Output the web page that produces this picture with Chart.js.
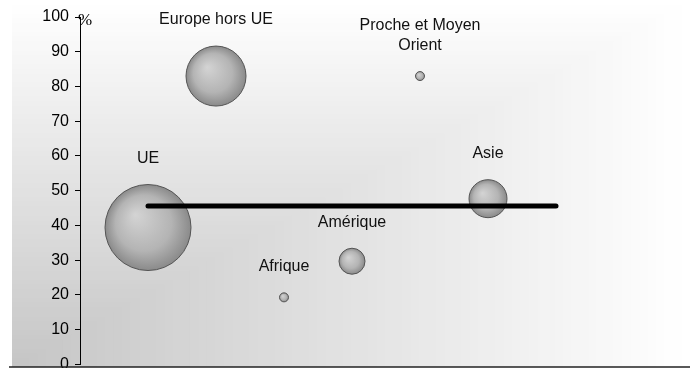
<!DOCTYPE html>
<html>
<head>
<meta charset="utf-8">
<script src="https://cdn.jsdelivr.net/npm/chart.js@4"></script>
<style>
  body { margin: 0; background: #fff; }
  #wrap { width: 700px; height: 368px; overflow: hidden; }
  #box { width: 700px; height: 380px; }
</style>
</head>
<body>
<div id="wrap"><div id="box"><canvas id="chart"></canvas></div></div>
<script>
const regions = [["UE"], ["Europe hors UE"], ["Afrique"], ["Amérique"], ["Proche et Moyen", "Orient"], ["Asie"]];
const xPos = [1, 2, 3, 4, 5, 6];
const shares = [39.4, 83, 19.3, 29.7, 83, 47.7];
const sizes = [43, 30, 4.5, 13, 4.5, 19];
const avgShare = 45.6;
const avgFrom = 1, avgTo = 7;
const yTicks = [0, 10, 20, 30, 40, 50, 60, 70, 80, 90, 100];

const bubbles = xPos.map((x, i) => ({ x, y: shares[i], r: sizes[i] }));

function bubbleFill(c) {
  const chart = c.chart;
  if (!chart.chartArea || !c.raw) return "#aaa";
  const px = chart.scales.x.getPixelForValue(c.raw.x);
  const py = chart.scales.y.getPixelForValue(c.raw.y);
  const r = c.raw.r;
  const g = chart.ctx.createRadialGradient(px - r * 0.3, py - r * 0.3, 0, px, py, r);
  g.addColorStop(0, "#d4d4d4");
  g.addColorStop(0.65, "#b4b4b4");
  g.addColorStop(1, "#8a8a8a");
  return g;
}

const backdrop = {
  id: "backdrop",
  beforeDraw(chart) {
    const ctx = chart.ctx;
    const x0 = chart.chartArea.left - 68, x1 = chart.chartArea.right - 2;
    const y0 = 0, y1 = 367;
    const W = x1 - x0, H = y1 - y0;
    const steps = 80;
    ctx.save();
    for (let s = 0; s <= steps; s++) {
      const c = s / steps;
      const v = Math.round(255 - 58 * c);
      ctx.fillStyle = `rgb(${v},${v},${v})`;
      const top = y0 + H * c;
      const right = x0 + W * (1 - c);
      ctx.fillRect(x0, top, right - x0, y1 - top);
    }
    ctx.restore();
  },
  afterDraw(chart) {
    const ctx = chart.ctx;
    ctx.save();
    ctx.strokeStyle = "#222";
    ctx.lineWidth = 1.5;
    ctx.beginPath();
    ctx.moveTo(chart.chartArea.left - 71, 367);
    ctx.lineTo(chart.chartArea.right - 2, 367);
    ctx.stroke();
    ctx.fillStyle = "#000";
    ctx.font = "17px 'Liberation Serif', serif";
    ctx.textAlign = "center";
    ctx.textBaseline = "middle";
    ctx.fillText("%", chart.chartArea.left + 5, chart.chartArea.top + 4);
    ctx.restore();
  },
  afterDatasetsDraw(chart) {
    const ctx = chart.ctx;
    const meta = chart.getDatasetMeta(1);
    ctx.save();
    ctx.fillStyle = "#111";
    ctx.font = "16px 'Liberation Sans', Arial, sans-serif";
    ctx.textAlign = "center";
    ctx.textBaseline = "middle";
    meta.data.forEach((el, i) => {
      const lines = regions[i];
      const top = el.y - sizes[i] - 26;
      lines.forEach((t, k) => {
        ctx.fillText(t, el.x, top - (lines.length - 1 - k) * 20);
      });
    });
    ctx.restore();
  }
};

new Chart(document.getElementById("chart"), {
  type: "bubble",
  data: {
    datasets: [
      {
        type: "line",
        data: [{ x: avgFrom, y: avgShare }, { x: avgTo, y: avgShare }],
        borderColor: "#000",
        borderWidth: 5,
        borderCapStyle: "round",
        pointRadius: 0,
        order: 0
      },
      {
        data: bubbles,
        backgroundColor: bubbleFill,
        borderColor: "#555",
        borderWidth: 1,
        order: 1
      }
    ]
  },
  options: {
    responsive: true,
    maintainAspectRatio: false,
    animation: false,
    layout: { autoPadding: false, padding: { left: 0, right: 8, top: 17, bottom: 14.5 } },
    plugins: { legend: { display: false }, tooltip: { enabled: false } },
    scales: {
      x: { type: "linear", min: 0, max: 9, display: false },
      y: {
        min: 0,
        max: 100,
        afterFit(s) { s.width = 80; },
        afterBuildTicks(s) { s.ticks = yTicks.map(v => ({ value: v })); },
        ticks: {
          color: "#000",
          padding: 6,
          font: { family: "'Liberation Sans', Arial, sans-serif", size: 16 }
        },
        grid: { drawOnChartArea: false, drawTicks: true, tickLength: 5, color: "#000" },
        border: { display: true, color: "#000", width: 1 }
      }
    }
  },
  plugins: [backdrop]
});
</script>
</body>
</html>
